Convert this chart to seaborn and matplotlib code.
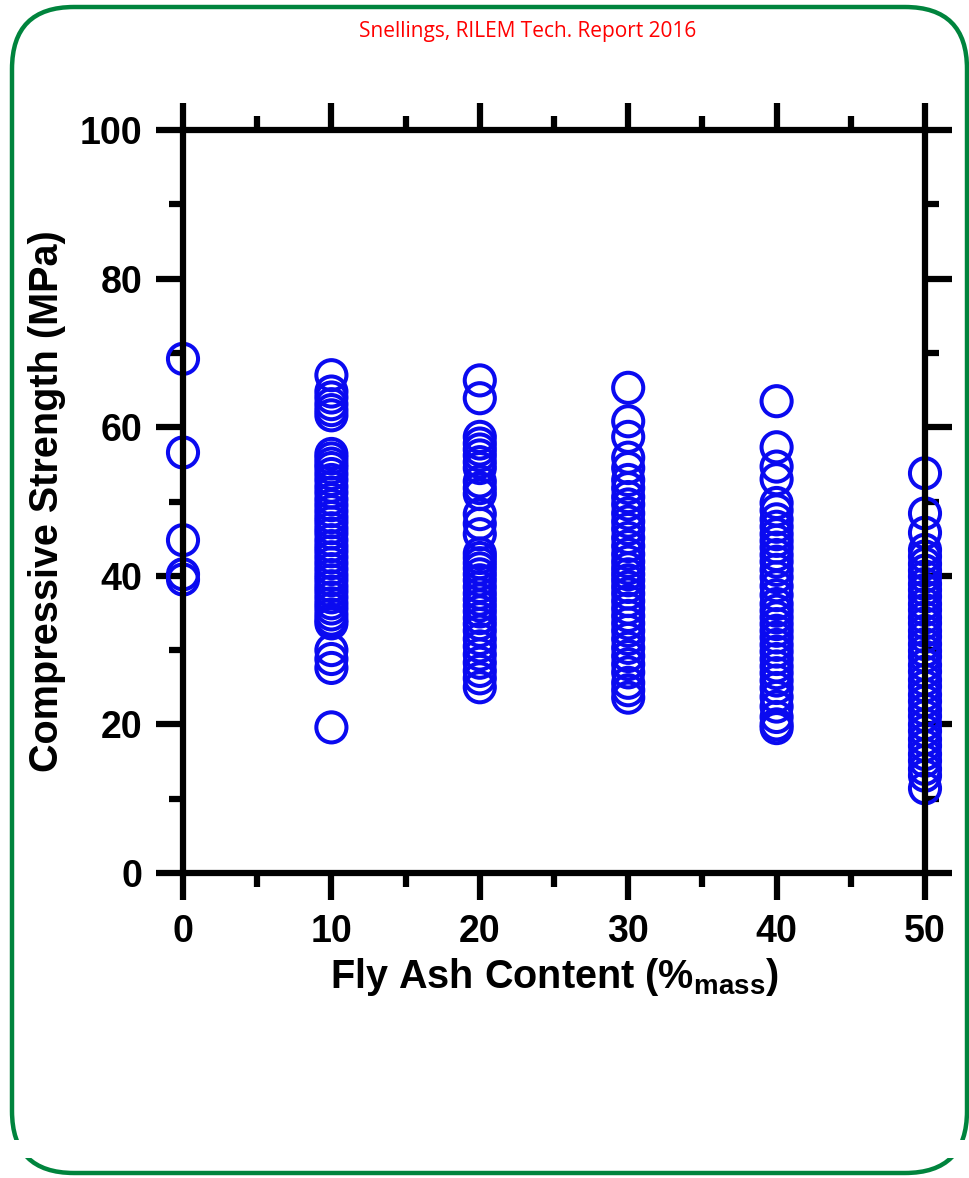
import matplotlib
matplotlib.use("Agg")
import matplotlib.pyplot as plt
import seaborn as sns
import pandas as pd
from matplotlib.patches import FancyBboxPatch, Rectangle
from matplotlib.ticker import MultipleLocator

# ---- data ----
fa_0 = [69.2, 56.6, 44.8, 40.2, 39.5]
fa_10 = [67.0, 64.8, 64.0, 63.1, 62.3, 61.6, 56.4, 55.8, 55.1, 54.5, 53.7, 52.9,
         52.0, 51.2, 50.3, 49.5, 48.7, 47.9, 47.2, 46.4, 45.7, 44.8, 44.0, 43.3,
         42.5, 41.7, 40.9, 40.1, 39.4, 38.6, 37.9, 37.1, 36.3, 35.6, 34.8, 34.1,
         33.6, 30.0, 28.8, 27.6, 19.6]
fa_20 = [66.3, 63.9, 58.7, 57.8, 57.0, 56.2, 55.3, 54.5, 52.7, 51.8, 51.0, 48.3,
         47.0, 45.6, 43.0, 42.4, 41.7, 41.0, 40.2, 39.4, 38.5, 37.6, 36.8, 36.0,
         35.2, 34.3, 33.5, 32.6, 31.5, 30.5, 29.4, 28.3, 27.2, 26.2, 25.0]
fa_30 = [65.3, 60.8, 58.7, 55.9, 54.5, 52.9, 51.8, 50.6, 49.6, 48.4, 47.3, 46.3,
         45.1, 44.0, 42.9, 41.9, 41.0, 40.2, 39.4, 38.5, 37.6, 36.6, 35.6, 34.6,
         33.6, 32.6, 31.5, 30.3, 29.2, 28.1, 27.0, 25.6, 24.6, 23.6]
fa_40 = [63.5, 57.3, 54.7, 53.0, 49.8, 48.8, 47.6, 46.6, 45.6, 44.7, 43.8, 42.8,
         41.9, 40.8, 39.8, 38.6, 37.4, 36.2, 35.3, 34.4, 33.5, 32.6, 31.7, 30.7,
         29.8, 28.8, 27.8, 26.9, 25.9, 24.9, 23.7, 22.4, 21.0, 20.0, 19.5]
fa_50 = [53.8, 48.4, 45.8, 43.5, 42.6, 41.6, 40.7, 39.9, 38.9, 38.1, 37.2, 36.2,
         35.4, 34.4, 33.6, 32.6, 31.8, 30.8, 29.9, 29.1, 28.0, 27.1, 26.0, 25.1,
         24.0, 23.1, 22.0, 21.1, 20.0, 19.1, 18.0, 17.1, 16.0, 15.1, 14.0, 13.1, 11.4]
fly_ash_levels = [0, 10, 20, 30, 40, 50]
strength_groups = [fa_0, fa_10, fa_20, fa_30, fa_40, fa_50]

rows = []
for lvl, grp in zip(fly_ash_levels, strength_groups):
    for v in grp:
        rows.append((lvl, v))
df = pd.DataFrame(rows, columns=["fly_ash", "strength"])

title_text = "Snellings, RILEM Tech. Report 2016"
xlabel_text = r"Fly Ash Content (%$_{\mathbf{mass}}$)"
ylabel_text = "Compressive Strength (MPa)"

# ---- style ----
sns.set_style("white")
plt.rcParams["font.family"] = ["Liberation Sans", "DejaVu Sans"]
plt.rcParams["mathtext.fontset"] = "custom"
plt.rcParams["mathtext.bf"] = "Liberation Sans:bold"
plt.rcParams["mathtext.rm"] = "Liberation Sans"
for k in ["text.color", "axes.labelcolor", "xtick.color", "ytick.color"]:
    plt.rcParams[k] = "black"

W, H = 969, 1178
fig = plt.figure(figsize=(W / 100, H / 100), dpi=100)
ax = fig.add_axes([183 / W, 1 - 873 / H, (925 - 183) / W, (873 - 130) / H])

sns.scatterplot(data=df, x="fly_ash", y="strength", ax=ax, marker="o",
                s=470, legend=False, clip_on=False, zorder=2)
coll = ax.collections[0]
coll.set_facecolor("none")
coll.set_edgecolor("#0A0AF0")
coll.set_linewidth(2.9)

ax.set_xlim(0, 50)
ax.set_ylim(0, 100)
ax.xaxis.set_major_locator(MultipleLocator(10))
ax.xaxis.set_minor_locator(MultipleLocator(5))
ax.yaxis.set_major_locator(MultipleLocator(20))
ax.yaxis.set_minor_locator(MultipleLocator(10))

for sp in ax.spines.values():
    sp.set_visible(True)
    sp.set_linewidth(4.5)
    sp.set_color("black")
    sp.set_zorder(2.5)

ax.tick_params(which="major", direction="out", length=19.5, width=4.5,
               top=True, right=True, bottom=True, left=True,
               labelsize=27, pad=10, color="black", labelcolor="black")
ax.tick_params(which="minor", direction="out", length=10, width=4.5,
               top=True, right=True, bottom=True, left=True, color="black")
for lbl in ax.get_xticklabels() + ax.get_yticklabels():
    lbl.set_fontweight("bold")
for t in ax.xaxis.get_major_ticks() + ax.xaxis.get_minor_ticks() + \
         ax.yaxis.get_major_ticks() + ax.yaxis.get_minor_ticks():
    t.tick1line.set_solid_capstyle("round")
    t.tick2line.set_solid_capstyle("round")

ax.set_xlabel(xlabel_text, fontsize=28.5, fontweight="bold", labelpad=4, color="black")
ax.set_ylabel(ylabel_text, fontsize=28.5, fontweight="bold", labelpad=10, color="black")

fig.text(528 / W, 1 - 32 / H, title_text, color="#FF0000", fontsize=15,
         family=["Open Sans", "DejaVu Sans"], ha="center", va="center")

# rounded green frame
border = FancyBboxPatch((12 / 100, (H - 1173) / 100), (967 - 12) / 100, (1173 - 7) / 100,
                        boxstyle="round,pad=0,rounding_size=0.62",
                        transform=fig.dpi_scale_trans, fill=False,
                        edgecolor="#00843D", linewidth=3.2, zorder=0)
fig.patches.append(border)
gap = Rectangle((0, (H - 1158) / 100), W / 100, 18 / 100, transform=fig.dpi_scale_trans,
                facecolor="white", edgecolor="none", zorder=1)
fig.patches.append(gap)

fig.savefig("out.png", dpi=100, facecolor="white")
